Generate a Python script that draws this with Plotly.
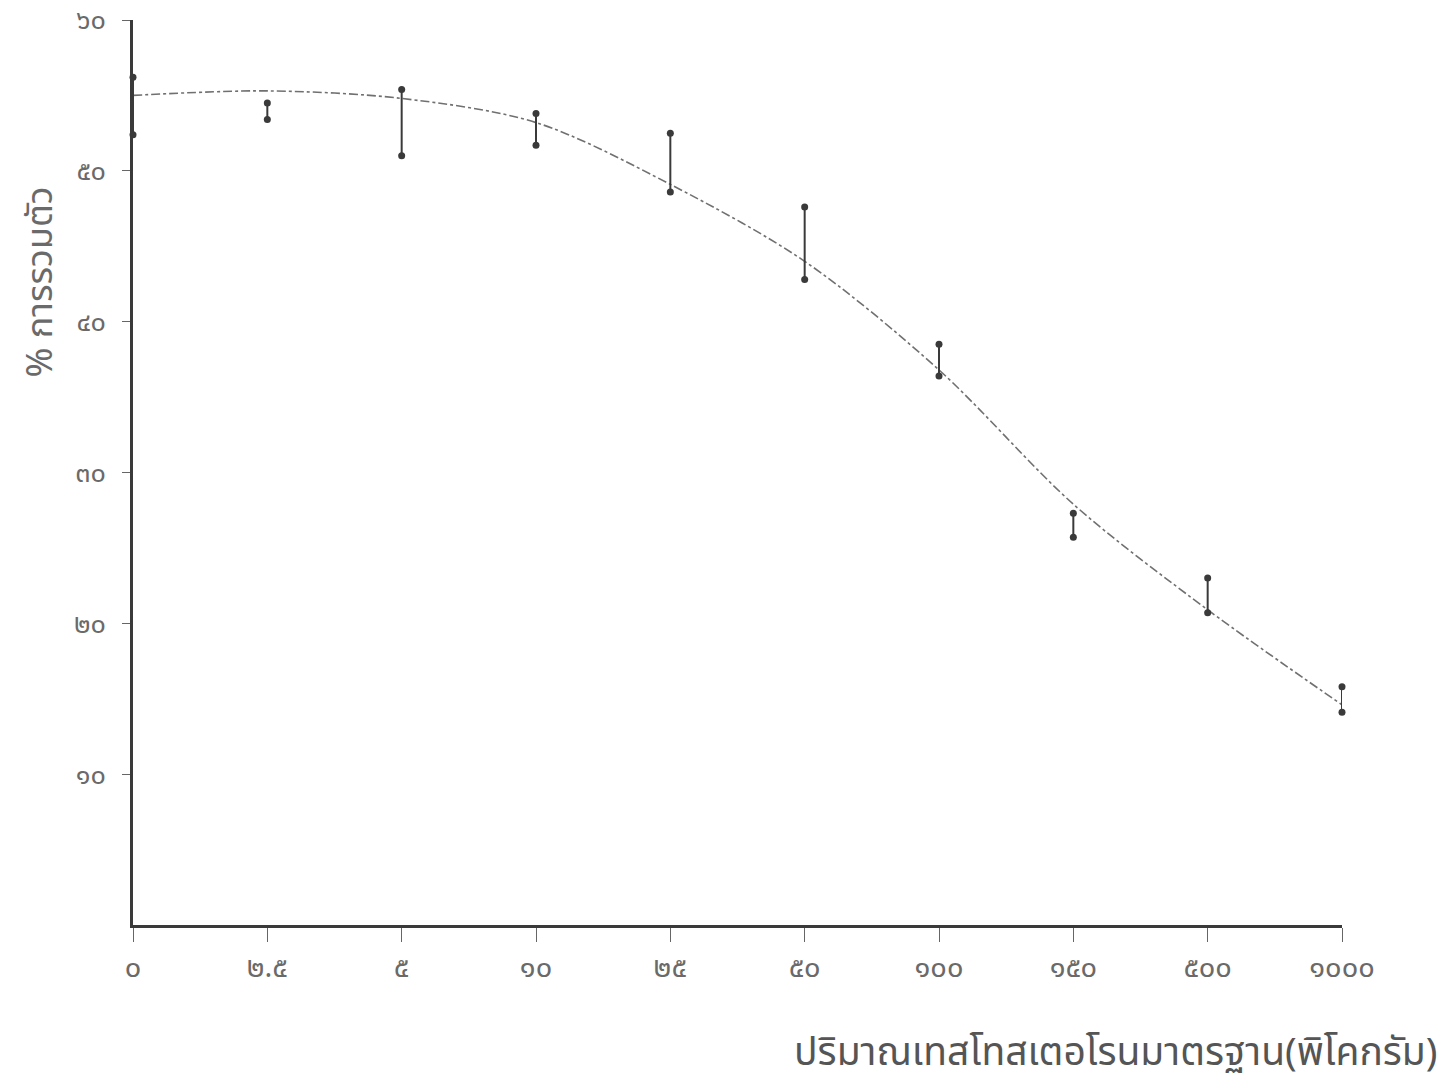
import plotly.graph_objects as go

# Data
dose_labels = ["๐", "๒.๕", "๕", "๑๐", "๒๕", "๕๐", "๑๐๐", "๑๕๐", "๕๐๐", "๑๐๐๐"]
curve_binding = [55.0, 55.3, 54.8, 53.2, 49.1, 44.0, 36.8, 27.9, 20.9, 14.6]
bar_low = [52.4, 53.4, 51.0, 51.7, 48.6, 42.8, 36.4, 25.7, 20.7, 14.1]
bar_high = [56.2, 54.5, 55.4, 53.8, 52.5, 47.6, 38.5, 27.3, 23.0, 15.8]
y_tick_vals = [10, 20, 30, 40, 50, 60]
y_tick_text = ["๑๐", "๒๐", "๓๐", "๔๐", "๕๐", "๖๐"]

ink = "#3a3a3a"
text_col = "#6a6a6a"
font_family = "Noto Sans Thai, Loma, Garuda, Norasi, Noto Sans, sans-serif"

xs = list(range(len(dose_labels)))

fig = go.Figure()

fig.add_trace(go.Scatter(
    x=xs, y=curve_binding, mode="lines",
    line=dict(color="#707070", width=1.6, dash="dashdot", shape="spline", smoothing=0.9),
    hoverinfo="skip", showlegend=False,
))

seg_x, seg_y = [], []
for i in xs:
    seg_x += [i, i, None]
    seg_y += [bar_low[i], bar_high[i], None]
fig.add_trace(go.Scatter(
    x=seg_x, y=seg_y, mode="lines+markers",
    line=dict(color=ink, width=2),
    marker=dict(color=ink, size=7),
    hoverinfo="skip", showlegend=False, cliponaxis=False,
))

fig.update_layout(
    width=1448, height=1089,
    margin=dict(l=133, r=106, t=20, b=164),
    paper_bgcolor="white", plot_bgcolor="white",
    font=dict(family=font_family, color=text_col),
    xaxis=dict(
        range=[0, len(dose_labels) - 1], automargin=False,
        tickmode="array", tickvals=xs, ticktext=dose_labels,
        showgrid=False, zeroline=False,
        showline=True, linecolor=ink, linewidth=2.5,
        ticks="outside", ticklen=14, tickwidth=1.2, tickcolor="#666666",
        tickfont=dict(size=29, color=text_col),
        ticklabelstandoff=0,
    ),
    yaxis=dict(
        range=[0, 60], automargin=False,
        tickmode="array", tickvals=y_tick_vals, ticktext=y_tick_text,
        showgrid=False, zeroline=False,
        showline=True, linecolor=ink, linewidth=2.5,
        ticks="outside", ticklen=8, tickwidth=1.2, tickcolor="#666666",
        tickfont=dict(size=27, color=text_col),
        ticklabelstandoff=11,
    ),
    annotations=[
        dict(text="% การรวมตัว", textangle=-90, xref="paper", yref="paper",
             x=-0.076, y=0.71, xanchor="center", yanchor="middle",
             showarrow=False, font=dict(size=36, color=text_col)),
        dict(text="ปริมาณเทสโทสเตอโรนมาตรฐาน(พิโคกรัม)", xref="paper", yref="paper",
             x=1.081, y=-0.142, xanchor="right", yanchor="middle",
             showarrow=False, font=dict(size=39, color="#555555")),
    ],
)

fig.write_html("out.html", config={"displayModeBar": False},
               post_script="document.body.style.margin='0';document.body.style.overflow='hidden';")
